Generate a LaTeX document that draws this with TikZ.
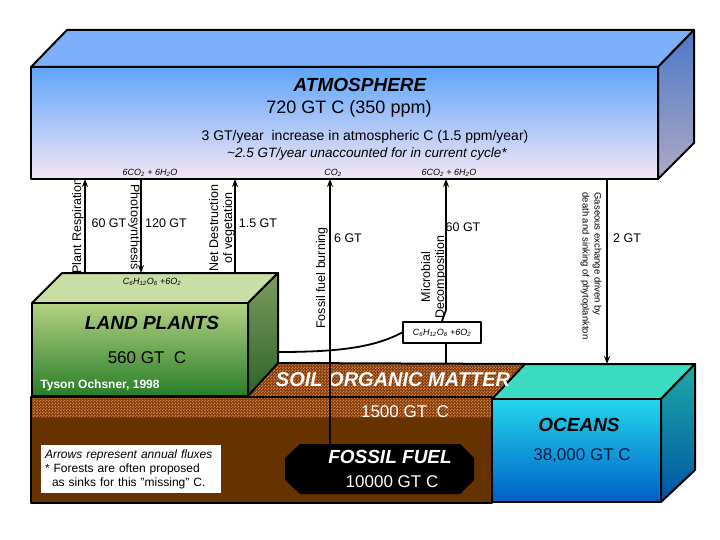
\documentclass[tikz,border=0pt]{standalone}
\usepackage{fontspec}
\setmainfont{Liberation Sans}
\usepackage{xcolor}
\usepackage{tikz}
\usetikzlibrary{arrows.meta,patterns}

\definecolor{atmtop}{RGB}{95,165,250}
\definecolor{atmbot}{RGB}{245,230,245}
\definecolor{atmlid}{RGB}{125,175,250}
\definecolor{atmsidetop}{RGB}{75,120,200}
\definecolor{atmsidebot}{RGB}{175,170,195}
\definecolor{planttop}{RGB}{180,210,130}
\definecolor{plantbot}{RGB}{40,125,40}
\definecolor{plantlid}{RGB}{200,222,165}
\definecolor{plantsidetop}{RGB}{125,155,95}
\definecolor{plantsidebot}{RGB}{45,100,40}
\definecolor{soilorange}{RGB}{215,125,55}
\definecolor{soilbrown}{RGB}{125,60,15}
\definecolor{earth}{RGB}{102,51,0}
\definecolor{seatop}{RGB}{35,215,235}
\definecolor{seabot}{RGB}{0,95,200}
\definecolor{sealid}{RGB}{60,220,195}
\definecolor{seasidetop}{RGB}{30,170,165}
\definecolor{seasidebot}{RGB}{0,85,165}
\definecolor{navy}{RGB}{10,30,70}

% fine checker for the soil
\pgfdeclarepatternformonly{finecheck}{\pgfpointorigin}{\pgfqpoint{3pt}{3pt}}{\pgfqpoint{3pt}{3pt}}
{\pgfpathrectangle{\pgfpointorigin}{\pgfqpoint{1.5pt}{1.5pt}}
 \pgfpathrectangle{\pgfqpoint{1.5pt}{1.5pt}}{\pgfqpoint{1.5pt}{1.5pt}}
 \pgfusepath{fill}}

\tikzset{
  rim/.style={draw=black,line width=2pt},
  flux/.style={line width=1.8pt,-{Stealth[length=8pt,width=6pt]}},
  link/.style={line width=1.8pt},
  vlabel/.style={font=\fontsize{12.5}{14}\selectfont,align=center,inner sep=1pt},
  amount/.style={font=\fontsize{12.5}{14}\selectfont},
  formula/.style={font=\itshape\fontsize{9}{10}\selectfont,inner sep=1pt},
  boxname/.style={font=\bfseries\itshape\fontsize{19}{22}\selectfont},
  stock/.style={font=\fontsize{17}{20}\selectfont},
  soil/.style={pattern=finecheck,pattern color=soilorange}
}

\begin{document}
\begin{tikzpicture}[x=1pt,y=-1pt,line join=round]
\useasboundingbox (0,0) rectangle (720,540);
% atmosphere
\fill[atmlid,rim](31,67)--(67,30)--(694,30)--(658,67)--cycle;
\shade[top color=atmsidetop,bottom color=atmsidebot,rim](658,67)--(694,30)--(694,143)--(658,179)--cycle;
\shade[top color=atmtop,bottom color=atmbot,rim](31,67)rectangle(658,179);
% ground
\fill[earth](31,417)rectangle(492,503);
\fill[soilbrown](31,397)rectangle(492,417);
\fill[soil](31,397)rectangle(492,417);
\fill[soilbrown](248,397)--(278,363)--(525,364)--(492,397)--cycle;
\fill[soil](248,397)--(278,363)--(525,364)--(492,397)--cycle;
\draw[rim](278,363)--(525,364);
\draw[rim](31,397)rectangle(492,503);
% land plants
\fill[plantlid,rim](32,303)--(62,273)--(278,273)--(248,303)--cycle;
\shade[top color=plantsidetop,bottom color=plantsidebot,rim](248,303)--(278,273)--(278,363)--(248,396)--cycle;
\shade[top color=planttop,bottom color=plantbot,rim](32,303)rectangle(248,396);
% oceans
\fill[sealid,rim](492,399)--(525,364)--(695,364)--(661,399)--cycle;
\shade[top color=seasidetop,bottom color=seasidebot,rim](661,399)--(695,364)--(695,470)--(661,502)--cycle;
\shade[top color=seatop,bottom color=seabot,rim](492,399)rectangle(661,502);
% fossil fuel
\fill[black](300,444)--(460,444)--(474,458)--(474,480)--(460,494)--(300,494)--(285,480)--(285,458)--cycle;
\coordinate(fossiltop)at(330,444);

% stores
\node[boxname](atmname)at(360,85){ATMOSPHERE};
\node[font=\fontsize{18}{21}\selectfont](atmamount)at(349,109){720 GT C (350 ppm)};
\node[font=\fontsize{14}{16}\selectfont](atmrise)at(365,137){3 GT/year\ \ increase in atmospheric C (1.5 ppm/year)};
\node[font=\itshape\fontsize{13.5}{16}\selectfont](atmmissing)at(367,154){\textasciitilde2.5 GT/year unaccounted for in current cycle*};
\node[boxname](plantname)at(152,323){LAND PLANTS};
\node[stock](plantamount)at(147,358){560 GT\ \ C};
\node[font=\bfseries\fontsize{12}{14}\selectfont,text=white](credit)at(100,385){Tyson Ochsner, 1998};
\node[boxname,text=white,font=\bfseries\itshape\fontsize{20}{22}\selectfont](soilname)at(393,380){SOIL ORGANIC MATTER};
\node[stock,text=white](soilamount)at(405,412){1500 GT\ \ C};
\node[boxname,text=white](fossilname)at(390,457){FOSSIL FUEL};
\node[stock,text=white](fossilamount)at(392,482){10000 GT C};
\node[boxname](seaname)at(579,425){OCEANS};
\node[stock,text=navy](seaamount)at(582,456){38,000 GT C};
\node[fill=white,text width=172pt,align=left,inner sep=4pt,font=\fontsize{12}{14}\selectfont](note)at(131,469)
  {\textit{Arrows represent annual fluxes}\\{*} Forests are often proposed\\\hspace*{7pt}as sinks for this "missing" C.};

% formulas
\node[formula](atmleft)at(150,173){6CO\textsubscript{2} + 6H\textsubscript{2}O};
\node[formula](atmmid)at(333,173){CO\textsubscript{2}};
\node[formula](atmright)at(449,173){6CO\textsubscript{2} + 6H\textsubscript{2}O};
\node[formula](plantsugar)at(152,282){C\textsubscript{6}H\textsubscript{12}O\textsubscript{6} +6O\textsubscript{2}};
\node[formula,draw,fill=white,line width=1.8pt,minimum width=78pt,minimum height=21pt](dec)at(442,332.5)
  {C\textsubscript{6}H\textsubscript{12}O\textsubscript{6} +6O\textsubscript{2}};

% flux ends
\coordinate(respdown)at(85,273);\coordinate(respup)at(85,179);
\coordinate(photoup)at(141,179);\coordinate(photodown)at(141,273);
\coordinate(vegdown)at(235,273);\coordinate(vegup)at(235,179);
\coordinate(ffup)at(330,179);
\coordinate(decup)at(446,179);\coordinate(decbend)at(446,310);\coordinate(decbase)at(446,363);
\coordinate(litter)at(279,352);
\coordinate(seaup)at(607,179);\coordinate(seadown)at(607,364);

\draw[flux](respdown)--(respup);
\draw[flux](photoup)--(photodown);
\draw[flux](vegdown)--(vegup);
\draw[flux](fossiltop)--(ffup);
\draw[flux](dec.north)--(decbend)--(decup);
\draw[link](dec.south -| decbase)--(decbase);
\draw[link](litter).. controls (340,352) and (375,347) ..(dec.west);
\draw[flux](seaup)--(seadown);

% flux labels
\node[vlabel,rotate=90](resplbl)at(78,226){Plant Respiration};
\node[vlabel,rotate=-90](photolbl)at(134,227){Photosynthesis};
\node[vlabel,rotate=90](veglbl)at(222,228){Net Destruction\\of vegetation};
\node[vlabel,rotate=90](fflbl)at(322,278){Fossil fuel burning};
\node[vlabel,rotate=90](declbl)at(434,277){Microbial\\Decomposition};
\node[vlabel,rotate=-90,align=left,font=\fontsize{9.5}{12}\selectfont](sealbl)at(591,266){Gaseous exchange driven by\\death and sinking of phytoplankton};
\node[amount](respamt)at(109,223){60 GT};
\node[amount](photoamt)at(166,223){120 GT};
\node[amount](vegamt)at(258,223){1.5 GT};
\node[amount](ffamt)at(348,238){6 GT};
\node[amount](decamt)at(463,227){60 GT};
\node[amount](seaamt)at(627,238){2 GT};
\end{tikzpicture}
\end{document}
